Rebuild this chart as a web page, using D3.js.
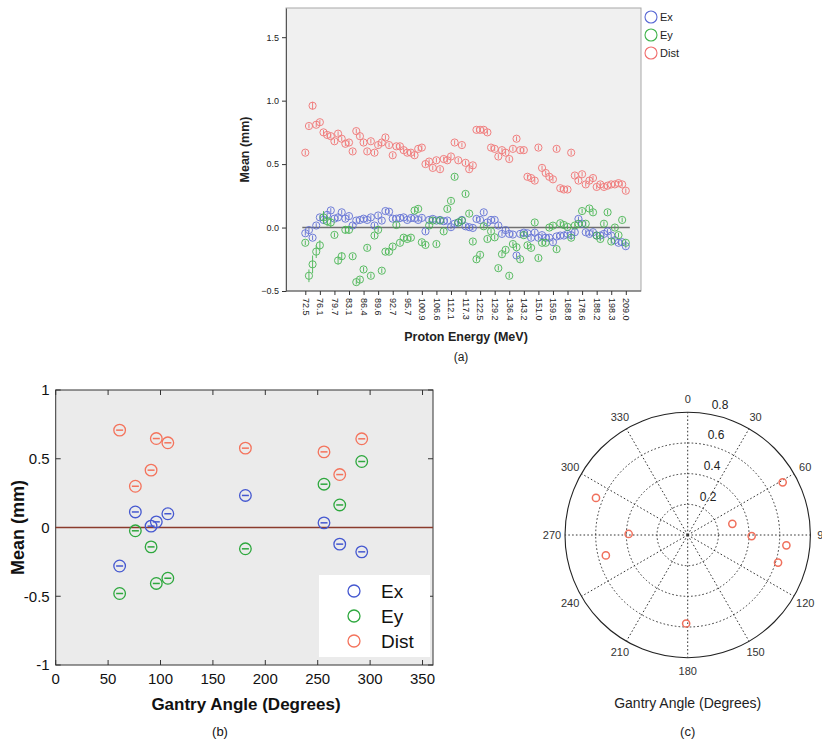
<!DOCTYPE html>
<html>
<head>
<meta charset="utf-8">
<script src="https://cdn.jsdelivr.net/npm/d3@7"></script>
<style>
  body { margin: 0; background: #fff; }
  svg { display: block; font-family: "Liberation Sans", Arial, sans-serif; }
</style>
</head>
<body>
<div id="chart"></div>
<script>
// ---- panel (a): mean per proton energy (89 energies, labels every 4th) ----
const energyTicks = ["72.5","76.1","79.7","83.1","86.4","89.6","92.7","95.7","100.9","106.6","112.1",
  "117.3","122.5","129.2","136.4","143.2","151.0","159.5","168.8","178.6","188.2","198.3","209.0"];

const distA = [0.59,0.80,0.96,0.81,0.83,0.75,0.73,0.72,0.68,0.74,
  0.70,0.66,0.67,0.60,0.76,0.72,0.67,0.60,0.68,0.59,
  0.65,0.67,0.71,0.65,0.57,0.64,0.64,0.61,0.59,0.59,
  0.57,0.62,0.63,0.50,0.52,0.47,0.53,0.46,0.54,0.53,
  0.56,0.67,0.53,0.65,0.51,0.46,0.49,0.77,0.77,0.77,
  0.75,0.63,0.62,0.56,0.61,0.59,0.54,0.62,0.70,0.61,
  0.61,0.40,0.39,0.37,0.63,0.47,0.43,0.40,0.38,0.62,
  0.31,0.30,0.30,0.59,0.41,0.37,0.42,0.34,0.37,0.39,
  0.32,0.34,0.32,0.33,0.34,0.34,0.35,0.34,0.29];

const exA = [-0.045,-0.02,-0.08,0.016,0.08,0.06,0.10,0.135,0.07,0.08,
  0.12,0.07,0.09,0.016,0.055,0.06,0.07,0.06,0.08,0.016,
  0.095,0.055,0.13,0.125,0.07,0.07,0.075,0.08,0.06,0.075,
  0.074,0.06,0.076,-0.03,0.06,0.068,0.055,0.06,0.05,0.055,
  0.003,0.03,0.04,0.06,0.01,0.003,-0.003,0.068,0.06,0.12,
  0.04,0.06,0.06,0.016,-0.05,-0.02,-0.05,-0.055,-0.22,-0.05,
  -0.04,-0.045,-0.08,-0.04,-0.08,-0.06,-0.08,-0.08,-0.115,-0.07,
  -0.063,-0.063,-0.05,-0.06,-0.037,0.068,0.03,-0.037,-0.05,-0.037,
  -0.063,-0.063,-0.05,-0.03,-0.063,-0.1,-0.12,-0.115,-0.147];

const eyA = [-0.12,-0.38,-0.29,-0.19,-0.14,0.08,0.05,0.04,-0.058,-0.26,
  -0.226,-0.018,-0.018,-0.226,-0.43,-0.41,-0.33,-0.16,-0.38,-0.063,
  -0.018,-0.34,-0.19,-0.19,-0.15,0.02,-0.12,-0.08,-0.09,-0.08,
  0.134,0.147,-0.116,-0.137,0.016,0.055,-0.13,0.055,-0.03,0.147,
  0.21,0.40,0.04,0.055,0.265,0.11,-0.11,-0.25,-0.215,0.01,
  -0.09,-0.03,-0.077,-0.32,-0.21,-0.176,-0.38,-0.13,-0.155,-0.25,
  -0.06,-0.14,-0.16,0.04,-0.24,-0.12,-0.12,0.00,0.015,-0.17,
  0.034,0.02,0.005,-0.08,0.016,0.03,0.13,0.03,0.15,0.12,
  -0.063,-0.09,0.03,0.12,-0.11,0.00,-0.06,0.06,-0.12];

// error bars that stick out of the markers (index: half length, mm)
const eyErrA = {1: 0.05, 2: 0.07, 3: 0.05, 4: 0.04, 5: 0.05, 6: 0.04, 7: 0.04, 9: 0.03, 10: 0.03, 11: 0.03, 12: 0.03};
const distErrA = {2: 0.03};

// ---- panels (b) and (c): mean per gantry angle ----
const angles = [61, 76, 91, 96, 107, 181, 256, 271, 292];
const exB = [-0.28, 0.113, 0.01, 0.041, 0.10, 0.233, 0.034, -0.121, -0.177];
const eyB = [-0.48, -0.024, -0.141, -0.407, -0.369, -0.155, 0.315, 0.164, 0.48];
const distB = [0.708, 0.30, 0.417, 0.647, 0.616, 0.577, 0.55, 0.385, 0.645];

const W = 822, H = 742;
const svg = d3.select("#chart").append("svg")
  .attr("width", W).attr("height", H)
  .style("background-color", "white");

// ================= (a) =================
function drawA() {
  const colors = { Ex: "#5868d4", Ey: "#3fb34a", Dist: "#f06c6c" };
  const left = 286, right = 641, top = 8, bottom = 291;
  const x = d3.scalePoint().domain(d3.range(distA.length)).range([305.3, 625.8]);
  const y = d3.scaleLinear().domain([-0.5, 1.73]).range([bottom, top]);
  const g = svg.append("g");

  g.append("rect").attr("x", left).attr("y", top)
    .attr("width", right - left).attr("height", bottom - top)
    .attr("fill", "#f0f0f0").attr("stroke", "#a8a8a8");

  const yAxis = g.append("g").attr("transform", `translate(${left},0)`)
    .call(d3.axisLeft(y).tickValues([-0.5, 0, 0.5, 1, 1.5]).tickFormat(d3.format(".1f")).tickSize(4).tickSizeOuter(0));
  yAxis.select(".domain").attr("stroke", "#555");
  yAxis.selectAll("text").attr("font-size", 9).attr("fill", "#222");
  yAxis.selectAll("line").attr("stroke", "#333");

  const tickIdx = energyTicks.map((d, i) => i * 4);
  const xAxis = g.append("g").attr("transform", `translate(0,${bottom})`)
    .call(d3.axisBottom(x).tickValues(tickIdx).tickFormat((d, i) => energyTicks[i]).tickSize(4).tickSizeOuter(0));
  xAxis.select(".domain").attr("d", `M${left},0H${right}`).attr("stroke", "#555");
  xAxis.selectAll("line").attr("stroke", "#333");
  xAxis.selectAll("text")
    .attr("font-size", 9).attr("fill", "#222")
    .attr("y", 0).attr("x", 7).attr("dy", "0.35em")
    .attr("transform", "rotate(90)")
    .style("text-anchor", "start");

  // zero reference line
  g.append("line").attr("x1", x(0) - 3).attr("x2", x(88) + 4)
    .attr("y1", y(0)).attr("y2", y(0))
    .attr("stroke", "#707070").attr("stroke-width", 1.6);

  const series = [
    { key: "Ex", values: exA, err: {} },
    { key: "Ey", values: eyA, err: eyErrA },
    { key: "Dist", values: distA, err: distErrA }
  ];
  series.forEach(s => {
    const pts = s.values.map((v, i) => ({ i, v, e: s.err[i] || 0.018 }));
    const sg = g.append("g").attr("stroke", colors[s.key]).attr("fill", "none").attr("opacity", 0.85);
    sg.selectAll("line").data(pts).enter().append("line")
      .attr("x1", d => x(d.i)).attr("x2", d => x(d.i))
      .attr("y1", d => y(d.v - d.e)).attr("y2", d => y(d.v + d.e))
      .attr("stroke-width", 1);
    sg.selectAll("circle").data(pts).enter().append("circle")
      .attr("cx", d => x(d.i)).attr("cy", d => y(d.v)).attr("r", 3.6)
      .attr("stroke-width", 1);
  });

  // legend
  const lg = g.append("g");
  ["Ex", "Ey", "Dist"].forEach((k, i) => {
    lg.append("circle").attr("cx", 651).attr("cy", 17 + i * 18).attr("r", 6)
      .attr("fill", "none").attr("stroke", colors[k]).attr("stroke-width", 1.1);
    lg.append("text").attr("x", 660).attr("y", 17 + i * 18).attr("dy", "0.35em")
      .attr("font-size", 11).attr("fill", "#222").text(k);
  });

  g.append("text").attr("transform", `translate(249,${(top + bottom) / 2}) rotate(-90)`)
    .attr("text-anchor", "middle").attr("font-size", 12.5).attr("font-weight", "bold")
    .attr("fill", "#222").text("Mean (mm)");
  g.append("text").attr("x", 466).attr("y", 341)
    .attr("text-anchor", "middle").attr("font-size", 12.5).attr("font-weight", "bold")
    .attr("fill", "#222").text("Proton Energy (MeV)");
  g.append("text").attr("x", 461).attr("y", 361)
    .attr("text-anchor", "middle").attr("font-size", 12).attr("fill", "#222").text("(a)");
}

// ================= (b) =================
function drawB() {
  const colors = { Ex: "#4558d0", Ey: "#2ea83e", Dist: "#f4735c" };
  const x = d3.scaleLinear().domain([0, 360]).range([55.7, 433]);
  const y = d3.scaleLinear().domain([-1, 1]).range([665, 390]);
  const g = svg.append("g");
  const [x0, x1] = x.range(), [y0, y1] = y.range();

  g.append("rect").attr("x", x0).attr("y", y1).attr("width", x1 - x0).attr("height", y0 - y1)
    .attr("fill", "#ebebeb");

  const xt = d3.range(0, 351, 50), yt = [-1, -0.5, 0, 0.5, 1];
  // inward ticks on all four sides
  g.append("g").selectAll("path").data(xt).enter().append("path")
    .attr("d", d => `M${x(d)},${y0}v-5M${x(d)},${y1}v5`).attr("stroke", "#333");
  g.append("g").selectAll("path").data(yt).enter().append("path")
    .attr("d", d => `M${x0},${y(d)}h5M${x1},${y(d)}h-5`).attr("stroke", "#333");
  g.append("rect").attr("x", x0).attr("y", y1).attr("width", x1 - x0).attr("height", y0 - y1)
    .attr("fill", "none").attr("stroke", "#333").attr("stroke-width", 1);

  g.append("g").selectAll("text").data(xt).enter().append("text")
    .attr("x", d => x(d)).attr("y", y0 + 19).attr("text-anchor", "middle")
    .attr("font-size", 15).attr("fill", "#111").text(d => d);
  g.append("g").selectAll("text").data(yt).enter().append("text")
    .attr("x", x0 - 6).attr("y", d => y(d)).attr("dy", "0.35em").attr("text-anchor", "end")
    .attr("font-size", 15).attr("fill", "#111").text(d => d);

  g.append("line").attr("x1", x0).attr("x2", x1).attr("y1", y(0)).attr("y2", y(0))
    .attr("stroke", "#8a3b2c").attr("stroke-width", 1.3);

  const series = [
    { key: "Ex", values: exB },
    { key: "Ey", values: eyB },
    { key: "Dist", values: distB }
  ];
  series.forEach(s => {
    const pts = s.values.map((v, i) => ({ a: angles[i], v }));
    const sg = g.append("g").attr("stroke", colors[s.key]).attr("fill", "none");
    sg.selectAll("line").data(pts).enter().append("line")
      .attr("x1", d => x(d.a) - 3.5).attr("x2", d => x(d.a) + 3.5)
      .attr("y1", d => y(d.v)).attr("y2", d => y(d.v)).attr("stroke-width", 1.5);
    sg.selectAll("circle").data(pts).enter().append("circle")
      .attr("cx", d => x(d.a)).attr("cy", d => y(d.v)).attr("r", 5.8).attr("stroke-width", 1.3);
  });

  // legend box
  g.append("rect").attr("x", 319).attr("y", 575).attr("width", 111).attr("height", 82)
    .attr("fill", "white");
  ["Ex", "Ey", "Dist"].forEach((k, i) => {
    const cy = 591 + i * 25;
    g.append("circle").attr("cx", 354).attr("cy", cy).attr("r", 6)
      .attr("fill", "none").attr("stroke", colors[k]).attr("stroke-width", 1.3);
    g.append("text").attr("x", 381).attr("y", cy).attr("dy", "0.36em")
      .attr("font-size", 19).attr("fill", "#111").text(k);
  });

  g.append("text").attr("transform", `translate(24,${y(0)}) rotate(-90)`)
    .attr("text-anchor", "middle").attr("font-size", 18).attr("font-weight", "bold")
    .attr("fill", "#111").text("Mean (mm)");
  g.append("text").attr("x", 246).attr("y", 710).attr("text-anchor", "middle")
    .attr("font-size", 17).attr("font-weight", "bold").attr("fill", "#111")
    .text("Gantry Angle (Degrees)");
  g.append("text").attr("x", 220).attr("y", 736).attr("text-anchor", "middle")
    .attr("font-size", 13).attr("fill", "#111").text("(b)");
}

// ================= (c) =================
function drawC() {
  const cx = 687.7, cy = 535;
  const r = d3.scaleLinear().domain([0, 0.8]).range([0, 122.7]);
  const g = svg.append("g").attr("transform", `translate(${cx},${cy})`);
  const px = (a, v) => r(v) * Math.sin(a * Math.PI / 180);
  const py = (a, v) => -r(v) * Math.cos(a * Math.PI / 180);
  const dash = "1.6,2.2";

  g.append("circle").attr("r", r(0.8)).attr("fill", "white").attr("stroke", "#222").attr("stroke-width", 1.1);
  [0.2, 0.4, 0.6].forEach(v => {
    g.append("circle").attr("r", r(v)).attr("fill", "none")
      .attr("stroke", "#333").attr("stroke-dasharray", dash);
  });
  const spokes = d3.range(0, 360, 30);
  g.selectAll(".spoke").data(spokes).enter().append("line")
    .attr("x1", 0).attr("y1", 0)
    .attr("x2", d => px(d, 0.8)).attr("y2", d => py(d, 0.8))
    .attr("stroke", "#333").attr("stroke-dasharray", dash);

  g.selectAll(".alab").data(spokes).enter().append("text")
    .attr("x", d => r(0.885) * Math.sin(d * Math.PI / 180))
    .attr("y", d => -r(0.885) * Math.cos(d * Math.PI / 180))
    .attr("dy", "0.35em").attr("text-anchor", "middle")
    .attr("font-size", 11).attr("fill", "#333").text(d => d);

  [0.2, 0.4, 0.6, 0.8].forEach(v => {
    g.append("text").attr("x", 8 + r(v) * 0.13).attr("y", -r(v) - 8).attr("dy", "0.35em")
      .attr("font-size", 12).attr("fill", "#222").text(v.toFixed(1));
  });

  g.selectAll(".pt").data(angles.map((a, i) => ({ a, v: distB[i] }))).enter().append("circle")
    .attr("cx", d => px(d.a, d.v)).attr("cy", d => py(d.a, d.v)).attr("r", 3.6)
    .attr("fill", "none").attr("stroke", "#f0705c").attr("stroke-width", 1.5);

  g.append("text").attr("x", 0).attr("y", 708 - cy).attr("text-anchor", "middle")
    .attr("font-size", 14).attr("fill", "#222").text("Gantry Angle (Degrees)");
  g.append("text").attr("x", 0).attr("y", 736 - cy).attr("text-anchor", "middle")
    .attr("font-size", 13).attr("fill", "#222").text("(c)");
}

drawA();
drawB();
drawC();
</script>
</body>
</html>
